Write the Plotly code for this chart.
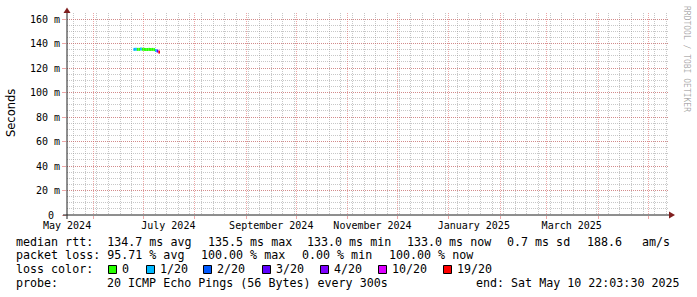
import plotly.graph_objects as go
import pandas as pd

# ---------------- data ----------------
dates = ["2024-06-25", "2024-06-26", "2024-06-27", "2024-06-28", "2024-06-29", "2024-06-30",
         "2024-07-01", "2024-07-02", "2024-07-03", "2024-07-04", "2024-07-05", "2024-07-06",
         "2024-07-07", "2024-07-08", "2024-07-09", "2024-07-10"]
median_ms = [135.2, 135.3, 135.2, 135.2, 135.5, 135.3, 135.2, 135.2, 135.1, 135.2,
             135.1, 135.2, 135.0, 134.3, 133.8, 133.0]
loss_count = [1, 1, 0, 0, 1, 0, 0, 0, 0, 0, 0, 0, 0, 1, 3, 19]

loss_levels = [0, 1, 2, 3, 4, 10, 19]
loss_labels = ["0", "1/20", "2/20", "3/20", "4/20", "10/20", "19/20"]
loss_colors = ["#26ff00", "#00b8ff", "#0059ff", "#5e00ff", "#7e00ff", "#dd00ff", "#ff0000"]

y_tickvals = [0, 20, 40, 60, 80, 100, 120, 140, 160]
y_ticktext = ["0\u00a0", "20 m", "40 m", "60 m", "80 m", "100 m", "120 m", "140 m", "160 m"]

x_label_dates = ["2024-05-16", "2024-07-16", "2024-09-16", "2024-11-16", "2025-01-16", "2025-03-16"]
x_label_text = ["May 2024", "July 2024", "September 2024", "November 2024", "January 2025", "March 2025"]

row1 = ["median rtt:  134.7 ms avg", "135.5 ms max", "133.0 ms min", "133.0 ms now", "0.7 ms sd", "188.6", "am/s"]
row2 = ["packet loss: 95.71 % avg", "100.00 % max", "0.00 % min", "100.00 % now"]
row3_title = "loss color:"
row4 = ["probe:", "20 ICMP Echo Pings (56 Bytes) every 300s", "end: Sat May 10 22:03:30 2025"]

# ---------------- layout constants ----------------
W, H = 697, 297
L, R, T, B = 67, 29, 13, 82
PW, PH = W - L - R, H - T - B
X_RANGE = ["2024-05-15 23:00", "2025-05-13 00:00"]
Y_RANGE = [0, 164.9]
MONO = "DejaVu Sans Mono"


def px(xp):
    return (xp - L) / PW


def py(yp):
    return (T + PH - yp) / PH


def nb(s):
    return s.replace(" ", "\u00a0")


fig = go.Figure()


def loss_class(n):
    cls = 0
    for lv in loss_levels:
        if n >= lv:
            cls = lv
    return cls


t = pd.to_datetime(dates)
step = pd.Timedelta(days=1)
for lv, col in zip(loss_levels, loss_colors):
    xs, ys = [], []
    for i in range(len(t)):
        if loss_class(loss_count[i]) == lv:
            xs += [t[i], t[i] + step, None]
            ys += [median_ms[i], median_ms[i], None]
    if xs:
        fig.add_trace(go.Scatter(x=xs, y=ys, mode="lines",
                                 line=dict(color=col, width=3), showlegend=False,
                                 hoverinfo="skip", xaxis="x", yaxis="y"))

# invisible trace for the label axis
fig.add_trace(go.Scatter(x=pd.to_datetime(x_label_dates), y=[None] * len(x_label_dates),
                         mode="markers", showlegend=False, hoverinfo="skip",
                         xaxis="x2", yaxis="y"))

MGRID = "rgba(222,79,79,0.5)"
GRID = "rgba(143,143,143,0.5)"
DOT = "1px,1px"

fig.update_layout(
    width=W, height=H, autosize=False,
    margin=dict(l=L, r=R, t=T, b=B, pad=0),
    paper_bgcolor="white", plot_bgcolor="white",
    showlegend=False,
    xaxis=dict(type="date", range=X_RANGE, showticklabels=False,
               tickmode="linear", tick0="2024-06-01", dtick="M1",
               showgrid=True, gridcolor=MGRID, griddash=DOT, gridwidth=1,
               ticks="outside", ticklen=3, tickcolor=MGRID,
               minor=dict(tick0="2024-05-20", dtick=7 * 24 * 3600 * 1000,
                          showgrid=True, gridcolor=GRID, griddash=DOT, gridwidth=1),
               showline=False, zeroline=False, fixedrange=True),
    xaxis2=dict(type="date", overlaying="x", matches="x", side="bottom",
                tickmode="array", tickvals=pd.to_datetime(x_label_dates), ticktext=x_label_text,
                showgrid=False, ticks="", showline=False, zeroline=False,
                ticklabelstandoff=3,
                tickfont=dict(family=MONO, size=10, color="black")),
    yaxis=dict(range=Y_RANGE, tickmode="array", tickvals=y_tickvals, ticktext=y_ticktext,
               showgrid=True, gridcolor=MGRID, griddash=DOT, gridwidth=1,
               ticks="outside", ticklen=4, tickcolor=MGRID,
               minor=dict(dtick=5, showgrid=True, gridcolor=GRID, griddash=DOT, gridwidth=1),
               tickfont=dict(family=MONO, size=10, color="black"),
               showline=False, zeroline=False, fixedrange=True),
)

AXIS = "#1f1f1f"
ARROW = "#801f1f"
shapes = [
    dict(type="line", xref="paper", yref="paper", x0=px(63), x1=px(670), y0=0, y1=0,
         line=dict(color=AXIS, width=1), layer="above"),
    dict(type="line", xref="paper", yref="paper", x0=0, x1=0, y0=py(219), y1=py(12),
         line=dict(color=AXIS, width=1), layer="above"),
    dict(type="path", xref="paper", yref="paper",
         path=f"M {px(67)},{py(7.5)} L {px(63.5)},{py(13)} L {px(70.5)},{py(13)} Z",
         fillcolor=ARROW, line=dict(color=ARROW, width=0), layer="above"),
    dict(type="path", xref="paper", yref="paper",
         path=f"M {px(675)},{py(215)} L {px(669)},{py(211.5)} L {px(669)},{py(218.5)} Z",
         fillcolor=ARROW, line=dict(color=ARROW, width=0), layer="above"),
]

annotations = []


def txt(s, xp, yp, anchor="left", size=11.66, family=MONO, color="black", angle=0):
    annotations.append(dict(text=nb(s), x=px(xp), y=py(yp), xref="paper", yref="paper",
                            xanchor=anchor, yanchor="middle", showarrow=False,
                            borderpad=0, borderwidth=0, textangle=angle,
                            font=dict(family=family, size=size, color=color)))


# axis title and watermark
txt("Seconds", 11, 113, anchor="center", size=11.5, family="DejaVu Sans", angle=-90)
txt("RRDTOOL / TOBI OETIKER", 686, 59, anchor="center", size=8, color="rgba(0,0,0,0.35)", angle=90)

# legend rows
r1x = [16, 207.7, 306.7, 407, 506.7, 586.7, 641.7]
for s, xp in zip(row1, r1x):
    txt(s, xp, 241.7)
r2x = [16, 200.7, 302, 389]
for s, xp in zip(row2, r2x):
    txt(s, xp, 255.3)
txt(row3_title, 16, 269)
box_x = [108, 146, 203, 262, 320, 378, 443]
for lab, col, bx in zip(loss_labels, loss_colors, box_x):
    shapes.append(dict(type="rect", xref="paper", yref="paper",
                       x0=px(bx + 0.5), x1=px(bx + 8.5), y0=py(273.5), y1=py(265.5),
                       fillcolor=col, line=dict(color="black", width=1), layer="above"))
    txt(lab, bx + 14, 269)
txt(row4[0], 16, 282.7)
txt(row4[1], 107, 282.7)
txt(row4[2], 680, 282.7, anchor="right")

fig.update_layout(shapes=shapes, annotations=annotations)
fig.write_html("out.html")
